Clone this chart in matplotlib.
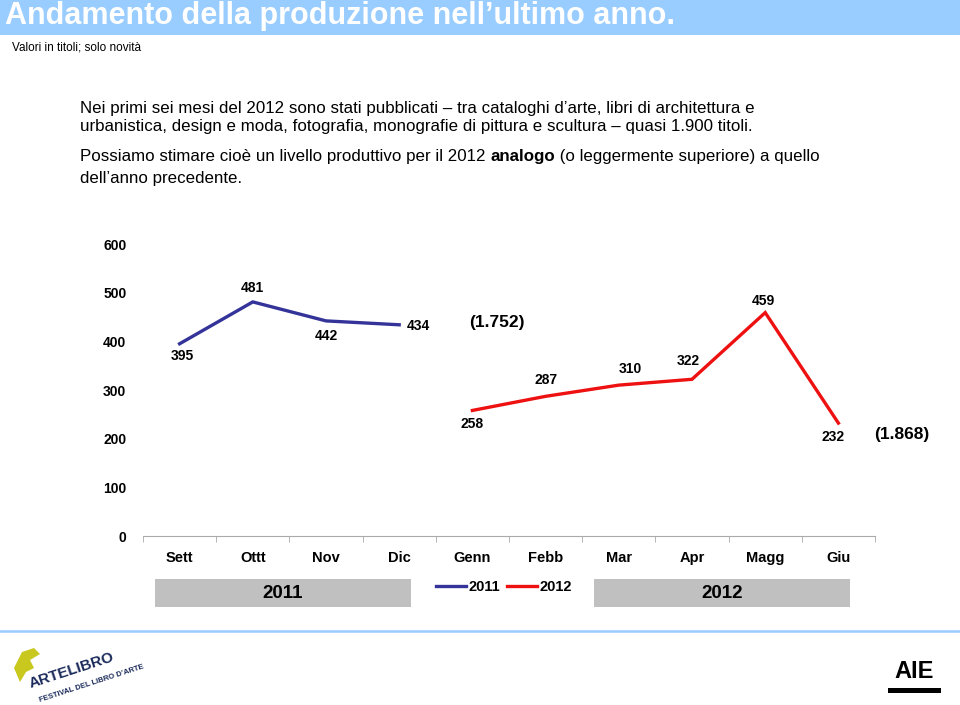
import matplotlib
matplotlib.use('Agg')
import matplotlib.pyplot as plt
from matplotlib.patches import Rectangle, Polygon
from matplotlib.lines import Line2D

plt.rcParams['font.family'] = ['Liberation Sans', 'DejaVu Sans']

# Dati
mesi = ['Sett', 'Ottt', 'Nov', 'Dic', 'Genn', 'Febb', 'Mar', 'Apr', 'Magg', 'Giu']
valori_2011 = [395, 481, 442, 434]
valori_2012 = [258, 287, 310, 322, 459, 232]
y_ticks = [0, 100, 200, 300, 400, 500, 600]

BLU = '#333399'
ROSSO = '#ee1111'
AZZURRO = '#99ccff'
GRIGIO = '#c0c0c0'


def totale(vals):
    return '(' + f'{sum(vals):,}'.replace(',', '.') + ')'


fig = plt.figure(figsize=(9.6, 7.05), dpi=100)

# Sfondo in pixel per testi e decorazioni
bg = fig.add_axes([0, 0, 1, 1])
bg.set_xlim(0, 960)
bg.set_ylim(705, 0)
bg.axis('off')

# Barra del titolo
bg.add_patch(Rectangle((0, 0), 960, 35, color=AZZURRO, lw=0))
bg.text(5, 24, 'Andamento della produzione nell\u2019ultimo anno.', color='white',
        fontsize=22, weight='bold', va='baseline', ha='left')
bg.text(12, 48, 'Valori in titoli; solo novità', fontsize=8.5, va='center')

# Testo descrittivo
fs = 12.2
bg.text(80, 108, 'Nei primi sei mesi del 2012 sono stati pubblicati \u2013 tra cataloghi d\u2019arte, libri di architettura e',
        fontsize=fs, va='center')
bg.text(80, 127, 'urbanistica, design e moda, fotografia, monografie di pittura e scultura \u2013 quasi 1.900 titoli.',
        fontsize=fs, va='center')
t1 = bg.text(80, 157, 'Possiamo stimare cioè un livello produttivo per il 2012 ', fontsize=fs, va='center')
t2 = bg.annotate('analogo', xy=(1, 0), xycoords=t1, fontsize=fs, weight='bold', va='bottom', ha='left')
bg.annotate(' (o leggermente superiore) a quello', xy=(1, 0), xycoords=t2, fontsize=fs,
            va='bottom', ha='left')
bg.text(80, 178, 'dell\u2019anno precedente.', fontsize=fs, va='center')

# Grafico
ax = fig.add_axes([143 / 960, (705 - 536) / 705, (875 - 143) / 960, (536 - 244) / 705])
ax.patch.set_alpha(0)
x11 = list(range(len(valori_2011)))
x12 = list(range(len(valori_2011), len(mesi)))
ax.plot(x11, valori_2011, color=BLU, lw=2.4, solid_joinstyle='miter')
ax.plot(x12, valori_2012, color=ROSSO, lw=2.4, solid_joinstyle='miter')

ax.set_xlim(-0.5, len(mesi) - 0.5)
ax.set_ylim(0, 600)
ax.set_yticks(y_ticks)
ax.set_yticklabels([str(v) for v in y_ticks], fontsize=10, weight='bold')
ax.set_xticks(range(len(mesi)))
ax.set_xticklabels(mesi, fontsize=10.5, weight='bold')
ax.set_xticks([i - 0.5 for i in range(len(mesi) + 1)], minor=True)
ax.tick_params(axis='x', which='major', length=0, pad=11)
ax.tick_params(axis='x', which='minor', length=4, color='#aaaaaa', direction='out')
ax.tick_params(axis='y', length=0, pad=12)
for s in ['left', 'right', 'top']:
    ax.spines[s].set_visible(False)
ax.spines['bottom'].set_color('#aaaaaa')
ax.spines['bottom'].set_linewidth(0.8)

# Etichette dei valori
off_2011 = [(2, -9), (0, 10), (0, -11), (14, -1)]
off_2012 = [(0, -10), (0, 11.5), (8.5, 11.5), (-3, 13.5), (-1, 8.5), (-4, -10)]
for x, v, o in zip(x11, valori_2011, off_2011):
    ax.annotate(str(v), (x, v), xytext=o, textcoords='offset points', ha='center',
                va='center', fontsize=10, weight='bold')
for x, v, o in zip(x12, valori_2012, off_2012):
    ax.annotate(str(v), (x, v), xytext=o, textcoords='offset points', ha='center',
                va='center', fontsize=10, weight='bold')

# Totali
bg.text(497, 322, totale(valori_2011), fontsize=12.5, weight='bold', ha='center', va='center')
bg.text(902, 435, totale(valori_2012), fontsize=12.5, weight='bold', ha='center', va='center')

# Riquadri anni
bg.add_patch(Rectangle((155, 579), 256, 28, color=GRIGIO, lw=0))
bg.add_patch(Rectangle((594, 579), 256, 28, color=GRIGIO, lw=0))
bg.text(283, 594, '2011', fontsize=13.5, weight='bold', ha='center', va='center')
bg.text(722, 594, '2012', fontsize=13.5, weight='bold', ha='center', va='center')

# Legenda
handles = [Line2D([], [], color=BLU, lw=2.4), Line2D([], [], color=ROSSO, lw=2.4)]
leg = fig.legend(handles, ['2011', '2012'], loc='center', bbox_to_anchor=(504 / 960, 1 - 587 / 705),
                 ncol=2, frameon=False, handlelength=2.1, handletextpad=0.15, columnspacing=0.45,
                 prop={'size': 10.5, 'weight': 'bold'})

# Piè di pagina
bg.plot([0, 960], [631, 631], color=AZZURRO, lw=1.8)

# Logo Artelibro (approssimato)
bg.add_patch(Polygon([(14, 668), (22, 652), (34, 648), (40, 654), (30, 660), (34, 668),
                      (26, 672), (20, 682)], color='#c8c81e', lw=0))
bg.text(72, 670, 'ARTELIBRO', fontsize=11, weight='bold', color='#1a2a5a', rotation=18,
        ha='center', va='center')
bg.text(92, 684, 'FESTIVAL DEL LIBRO D\u2019ARTE', fontsize=5.5, weight='bold', color='#1a2a5a',
        rotation=18, ha='center', va='center')

# Logo AIE (approssimato)
bg.text(914, 672, 'AIE', fontsize=17, weight='bold', color='black', ha='center', va='center')
bg.add_patch(Rectangle((888, 688), 53, 5, color='black', lw=0))

fig.savefig('out.png', dpi=100)
